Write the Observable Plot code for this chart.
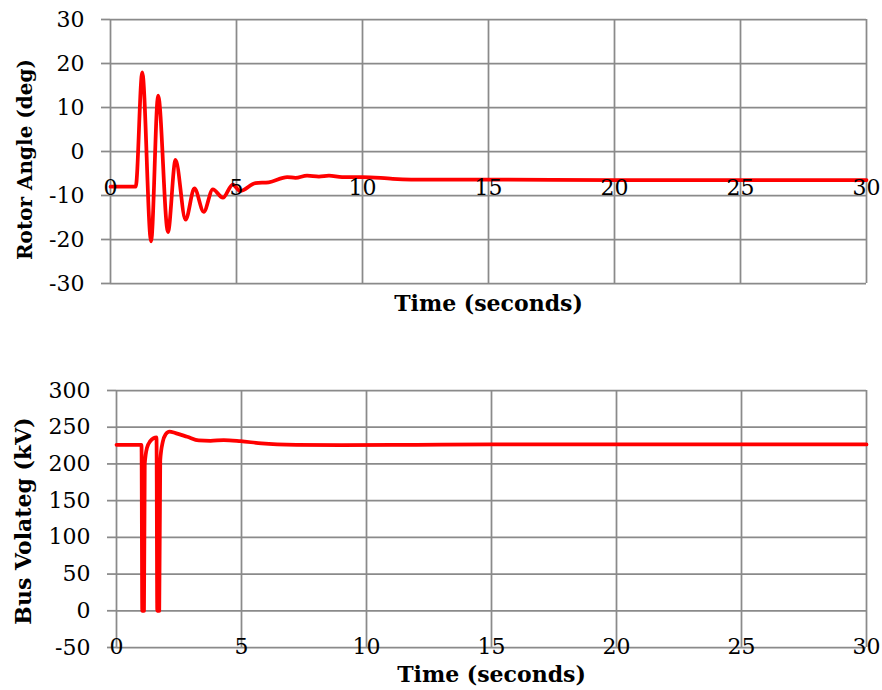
<!DOCTYPE html>
<html>
<head>
<meta charset="utf-8">
<script src="https://cdn.jsdelivr.net/npm/d3@7"></script>
<script src="https://cdn.jsdelivr.net/npm/@observablehq/plot@0.6"></script>
<style>
  body { margin: 0; background: #fff; }
  svg { display: block; }
  svg text { font-family: "DejaVu Serif", "Liberation Serif", serif !important; }
</style>
</head>
<body>
<div id="chart"></div>
<script>
// Tick values
const timeTicks = [0, 5, 10, 15, 20, 25, 30];
const angleTicks = [-30, -20, -10, 0, 10, 20, 30];
const voltTicks = [-50, 0, 50, 100, 150, 200, 250, 300];

// Rotor angle (deg) vs time (s)
const angleTime  = [0, 1.0, 1.26, 1.61, 1.89, 2.28, 2.58, 2.98, 3.33, 3.70, 4.06, 4.46, 4.85, 5.15, 5.75, 6.28, 7.01, 7.34, 7.8, 8.27, 8.67, 9.19, 10, 11.2, 12.5, 15, 20, 25, 30];
const angleValue = [-8, -8, 18, -20.4, 12.7, -18.3, -1.9, -15.5, -8.4, -13.7, -8.6, -10.5, -7.5, -9.0, -7.2, -7.0, -5.8, -6.0, -5.5, -5.7, -5.5, -5.8, -5.8, -6.2, -6.4, -6.4, -6.5, -6.5, -6.5];

// Bus voltage (kV) vs time (s)
const voltTime  = [0, 1.0, 1.03, 1.10, 1.13, 1.22, 1.35, 1.48, 1.60, 1.63, 1.71, 1.75, 1.85, 1.96, 2.12, 2.36, 2.83, 3.29, 3.76, 4.29, 4.96, 5.8, 7.2, 9, 12, 15, 20, 25, 30];
const voltValue = [226, 226, 0, 0, 200, 222, 231, 235, 236, 0, 0, 205, 230, 240, 244, 242, 237, 232, 231.5, 232.5, 231, 228, 226, 225.5, 226, 226.5, 226.5, 226.5, 226.5];

const GRID = "#8a8a8a";
const FONT = "DejaVu Serif";

function panel({time, value, yTicks, yDomain, yLabel, titleSize, height, marginTop, marginBottom, marginLeft, titleDx, titleDy, xTitleDy}) {
  const rows = time.map((t, i) => ({t, v: value[i]}));
  return Plot.plot({
    width: 882,
    height,
    marginTop,
    marginBottom,
    marginLeft,
    marginRight: 16,
    x: {domain: [0, 30], axis: null},
    y: {domain: yDomain, axis: null},
    style: {fontFamily: FONT, fontSize: "22px", color: "black", background: "white", overflow: "visible"},
    marks: [
      Plot.gridX(timeTicks, {stroke: GRID, strokeOpacity: 1, strokeWidth: 1.75}),
      Plot.gridY(yTicks, {stroke: GRID, strokeOpacity: 1, strokeWidth: 1.75}),
      Plot.axisY(yTicks, {tickSize: 9, tickPadding: 17, stroke: GRID, strokeWidth: 1.75, fill: "black", tickFormat: d => String(d), label: null, fontSize: 22, fontFamily: FONT}),
      Plot.line(rows, {x: "t", y: "v", stroke: "#ff0000", strokeWidth: 3.75, curve: "monotone-x"}),
      Plot.text(timeTicks, {x: d => d, y: 0, dy: 36, text: d => String(d), fill: "black", fontSize: 22, fontFamily: FONT, lineAnchor: "middle"}),
      Plot.text([yLabel], {frameAnchor: "left", rotate: -90, dx: titleDx, dy: titleDy, textAnchor: "middle", lineAnchor: "middle", fontWeight: "bold", fontSize: titleSize, fontFamily: FONT, fill: "black"}),
      Plot.text(["Time (seconds)"], {frameAnchor: "bottom", dy: xTitleDy, textAnchor: "middle", lineAnchor: "middle", fontWeight: "bold", fontSize: 22, fontFamily: FONT, fill: "black"})
    ]
  });
}

const chart = document.getElementById("chart");
chart.append(panel({
  time: angleTime, value: angleValue, yTicks: angleTicks, yDomain: [-30, 30],
  yLabel: "Rotor Angle (deg)", titleSize: 20, height: 345, marginTop: 19, marginBottom: 62, marginLeft: 110,
  titleDx: -85, titleDy: 8, xTitleDy: 20
}));
chart.append(panel({
  time: voltTime, value: voltValue, yTicks: voltTicks, yDomain: [-50, 300],
  yLabel: "Bus Volateg (kV)", titleSize: 22, height: 345, marginTop: 45, marginBottom: 43, marginLeft: 116,
  titleDx: -93, titleDy: 2, xTitleDy: 27
}));
</script>
</body>
</html>
